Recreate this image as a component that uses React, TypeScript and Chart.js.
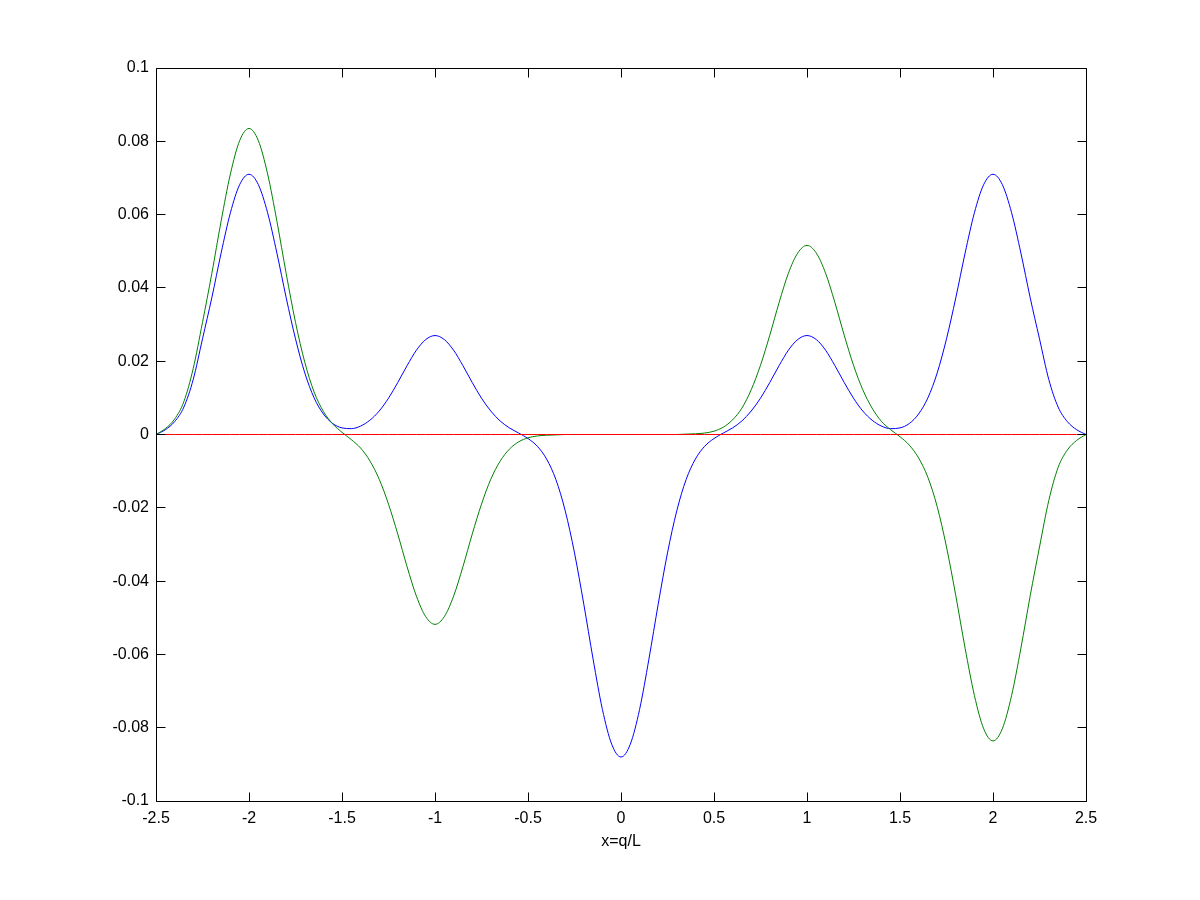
import React, { useEffect, useRef } from "react";
import { Chart, registerables } from "chart.js";

Chart.register(...registerables);

const xValues = [
  -2.5, -2.45, -2.4, -2.35, -2.3, -2.25, -2.2, -2.15, -2.1, -2.05,
  -2.0, -1.95, -1.9, -1.85, -1.8, -1.75, -1.7, -1.65, -1.6, -1.55,
  -1.5, -1.45, -1.4, -1.35, -1.3, -1.25, -1.2, -1.15, -1.1, -1.05,
  -1.0, -0.95, -0.9, -0.85, -0.8, -0.75, -0.7, -0.65, -0.6, -0.55,
  -0.5, -0.45, -0.4, -0.35, -0.3, -0.25, -0.2, -0.15, -0.1, -0.05,
  0.0, 0.05, 0.1, 0.15, 0.2, 0.25, 0.3, 0.35, 0.4, 0.45,
  0.5, 0.55, 0.6, 0.65, 0.7, 0.75, 0.8, 0.85, 0.9, 0.95,
  1.0, 1.05, 1.1, 1.15, 1.2, 1.25, 1.3, 1.35, 1.4, 1.45,
  1.5, 1.55, 1.6, 1.65, 1.7, 1.75, 1.8, 1.85, 1.9, 1.95,
  2.0, 2.05, 2.1, 2.15, 2.2, 2.25, 2.3, 2.35, 2.4, 2.45,
  2.5,
];

const blueSeries = [
  0, 0.0013, 0.0035, 0.0075, 0.015, 0.0261, 0.0373, 0.0495, 0.0605, 0.0682,
  0.071, 0.0682, 0.0605, 0.0495, 0.0373, 0.0261, 0.0168, 0.01, 0.0056, 0.003,
  0.0018, 0.0016, 0.0023, 0.0039, 0.0064, 0.0099, 0.0142, 0.0188, 0.023, 0.0259,
  0.027, 0.0259, 0.023, 0.0188, 0.0142, 0.0099, 0.0064, 0.0037, 0.0018, 0.0004,
  -0.0011, -0.0032, -0.0067, -0.0123, -0.0208, -0.0323, -0.0463, -0.0613, -0.075, -0.0845,
  -0.088, -0.0845, -0.075, -0.0613, -0.0463, -0.0323, -0.0208, -0.0123, -0.0067, -0.0032,
  -0.0011, 0.0004, 0.0018, 0.0037, 0.0064, 0.0099, 0.0142, 0.0188, 0.023, 0.0259,
  0.027, 0.0259, 0.023, 0.0188, 0.0142, 0.0099, 0.0064, 0.0039, 0.0023, 0.0016,
  0.0018, 0.003, 0.0056, 0.01, 0.0168, 0.0261, 0.0373, 0.0495, 0.0605, 0.0682,
  0.071, 0.0682, 0.0605, 0.0495, 0.0373, 0.0261, 0.015, 0.0075, 0.0035, 0.0013,
  0,
];

const greenSeries = [
  0, 0.0016, 0.0042, 0.009, 0.018, 0.0306, 0.0439, 0.0582, 0.0711, 0.0802,
  0.0835, 0.0802, 0.0711, 0.0582, 0.0439, 0.0306, 0.0197, 0.0116, 0.0063, 0.0029,
  0.0006, -0.0014, -0.0037, -0.0072, -0.0122, -0.019, -0.0272, -0.0361, -0.0441, -0.0497,
  -0.0518, -0.0497, -0.0441, -0.0361, -0.0272, -0.019, -0.0122, -0.0073, -0.004, -0.002,
  -0.0009, -0.0004, -0.0002, -0.0001, 0, 0, 0, 0, 0, 0,
  0, 0, 0, 0, 0, 0, 0, 0.0001, 0.0002, 0.0004,
  0.0009, 0.002, 0.004, 0.0072, 0.0122, 0.0189, 0.0271, 0.036, 0.044, 0.0495,
  0.0516, 0.0495, 0.044, 0.036, 0.0271, 0.0189, 0.0122, 0.0072, 0.0036, 0.0013,
  -0.0006, -0.0029, -0.0064, -0.0117, -0.0197, -0.0307, -0.044, -0.0583, -0.0712, -0.0803,
  -0.0836, -0.0803, -0.0712, -0.0583, -0.044, -0.0307, -0.018, -0.009, -0.0042, -0.0016,
  0,
];

const redSeries = [
  0, 0, 0, 0, 0, 0, 0, 0, 0, 0,
  0, 0, 0, 0, 0, 0, 0, 0, 0, 0,
  0, 0, 0, 0, 0, 0, 0, 0, 0, 0,
  0, 0, 0, 0, 0, 0, 0, 0, 0, 0,
  0, 0, 0, 0, 0, 0, 0, 0, 0, 0,
  0, 0, 0, 0, 0, 0, 0, 0, 0, 0,
  0, 0, 0, 0, 0, 0, 0, 0, 0, 0,
  0, 0, 0, 0, 0, 0, 0, 0, 0, 0,
  0, 0, 0, 0, 0, 0, 0, 0, 0, 0,
  0, 0, 0, 0, 0, 0, 0, 0, 0, 0,
  0,
];

const xTicks = [-2.5, -2, -1.5, -1, -0.5, 0, 0.5, 1, 1.5, 2, 2.5];
const yTicks = [-0.1, -0.08, -0.06, -0.04, -0.02, 0, 0.02, 0.04, 0.06, 0.08, 0.1];
const xTitle = "x=q/L";

const FONT_FAMILY = "'Liberation Sans', Arial, Helvetica, sans-serif";
const TICK_LEN = 9;

const fmt = (v: number) => String(Number(Number(v).toFixed(4)));

const framePlugin = {
  id: "matlabFrame",
  afterDraw(chart: any) {
    const { ctx, chartArea, scales } = chart;
    const l = Math.floor(chartArea.left) + 0.5;
    const r = Math.floor(chartArea.right) + 0.5;
    const t = Math.floor(chartArea.top) + 0.5;
    const b = Math.floor(chartArea.bottom) + 0.5;
    ctx.save();
    ctx.strokeStyle = "#000";
    ctx.lineWidth = 1;
    ctx.beginPath();
    ctx.moveTo(l, t);
    ctx.lineTo(r, t);
    ctx.lineTo(r, b);
    ctx.lineTo(l, b);
    ctx.closePath();
    for (const tk of scales.x.ticks) {
      const px = Math.floor(scales.x.getPixelForValue(tk.value)) + 0.5;
      ctx.moveTo(px, b);
      ctx.lineTo(px, b - TICK_LEN);
      ctx.moveTo(px, t);
      ctx.lineTo(px, t + TICK_LEN);
    }
    for (const tk of scales.y.ticks) {
      const py = Math.floor(scales.y.getPixelForValue(tk.value)) + 0.5;
      ctx.moveTo(l, py);
      ctx.lineTo(l + TICK_LEN, py);
      ctx.moveTo(r, py);
      ctx.lineTo(r - TICK_LEN, py);
    }
    ctx.stroke();
    ctx.restore();
  },
};

export default function App() {
  const canvasRef = useRef<HTMLCanvasElement | null>(null);

  useEffect(() => {
    document.body.style.margin = "0";
    const canvas = canvasRef.current;
    if (!canvas) return;
    const mk = (ys: number[]) => xValues.map((x, i) => ({ x, y: ys[i] }));
    const font = { family: FONT_FAMILY, size: 16 };
    const chart = new Chart(canvas, {
      type: "line",
      data: {
        datasets: [
          {
            label: "red",
            data: mk(redSeries),
            borderColor: "#ff0000",
            borderWidth: 1,
            pointRadius: 0,
            order: 0,
          },
          {
            label: "green",
            data: mk(greenSeries),
            borderColor: "#008000",
            borderWidth: 1,
            pointRadius: 0,
            cubicInterpolationMode: "monotone",
            order: 1,
          },
          {
            label: "blue",
            data: mk(blueSeries),
            borderColor: "#0000ff",
            borderWidth: 1,
            pointRadius: 0,
            cubicInterpolationMode: "monotone",
            order: 2,
          },
        ],
      },
      options: {
        animation: false,
        responsive: true,
        maintainAspectRatio: false,
        color: "#000",
        layout: { padding: { left: 0, top: 68, right: 114, bottom: 0 } },
        plugins: {
          legend: { display: false },
          tooltip: { enabled: false },
        },
        events: [],
        scales: {
          x: {
            type: "linear",
            min: -2.5,
            max: 2.5,
            afterBuildTicks: (s: any) => {
              s.ticks = xTicks.map((v) => ({ value: v }));
            },
            afterFit: (s: any) => {
              s.height = 99;
            },
            grid: { display: false, drawTicks: false },
            border: { display: false },
            ticks: {
              callback: (v: any) => fmt(v),
              padding: 8,
              maxRotation: 0,
              autoSkip: false,
              color: "#000",
              font,
            },
            title: {
              display: true,
              text: xTitle,
              color: "#000",
              font,
              padding: { top: 0, bottom: 49 },
            },
          },
          y: {
            type: "linear",
            min: -0.1,
            max: 0.1,
            afterBuildTicks: (s: any) => {
              s.ticks = yTicks.map((v) => ({ value: v }));
            },
            afterFit: (s: any) => {
              s.width = 156;
            },
            grid: { display: false, drawTicks: false },
            border: { display: false },
            ticks: {
              callback: (v: any) => fmt(v),
              padding: 7,
              autoSkip: false,
              color: "#000",
              font,
            },
          },
        },
      } as any,
      plugins: [framePlugin],
    });
    return () => chart.destroy();
  }, []);

  return (
    <div style={{ position: "absolute", left: 0, top: 0, width: 1200, height: 900, background: "#fff" }}>
      <canvas ref={canvasRef} />
    </div>
  );
}
